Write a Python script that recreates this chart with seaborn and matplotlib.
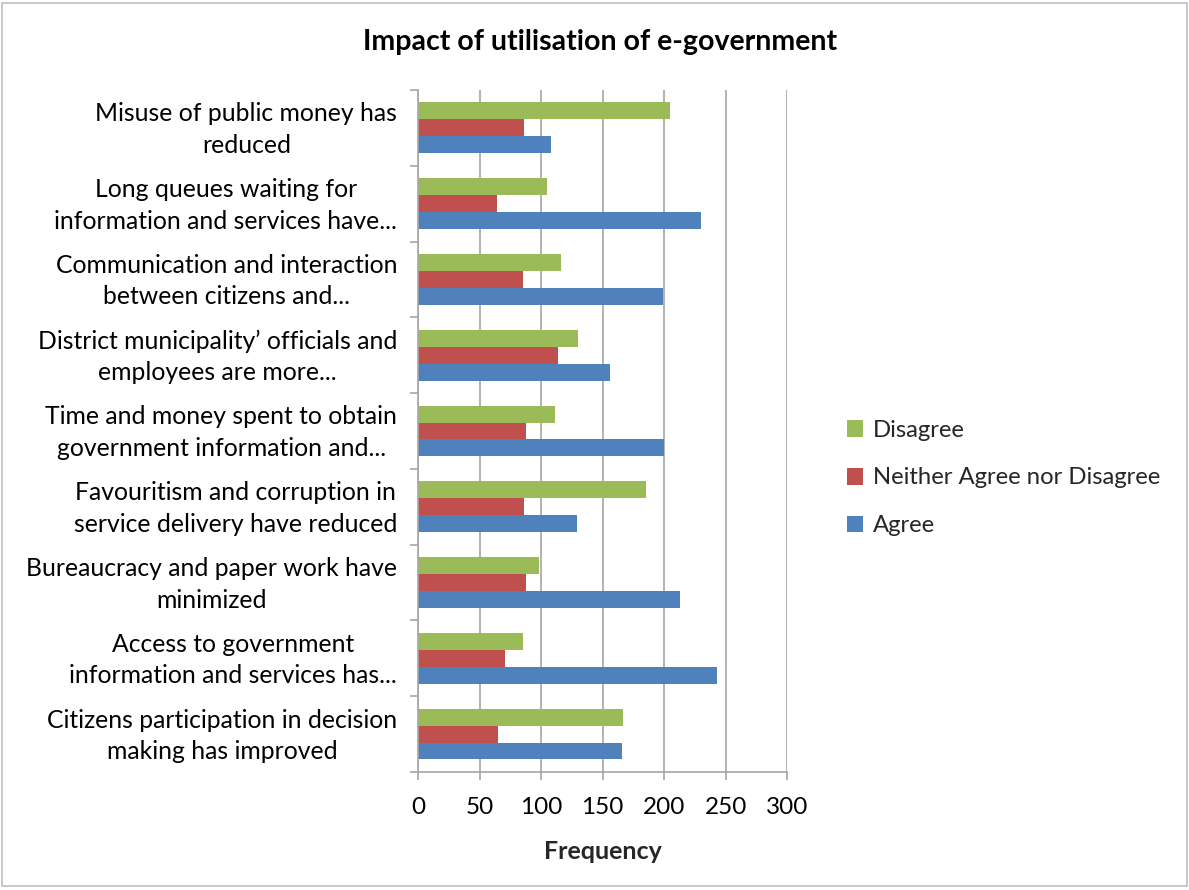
import matplotlib
matplotlib.use("Agg")
import matplotlib.pyplot as plt
import matplotlib.transforms as mtransforms
import seaborn as sns
import pandas as pd
from matplotlib.patches import Rectangle
from matplotlib.ticker import FixedLocator

categories = [
    "Misuse of public money has\nreduced",
    "Long queues waiting for\ninformation and services have...",
    "Communication and interaction\nbetween citizens and...",
    "District municipality\u2019 officials and\nemployees are more...",
    "Time and money spent to obtain\ngovernment information and...",
    "Favouritism and corruption in\nservice delivery have reduced",
    "Bureaucracy and paper work have\nminimized",
    "Access to government\ninformation and services has...",
    "Citizens participation in decision\nmaking has improved",
]
disagree = [205, 105, 116, 130, 111, 185, 98, 85, 167]
neither = [86, 64, 85, 114, 88, 86, 88, 71, 65]
agree = [108, 230, 199, 156, 200, 129, 213, 243, 166]

series_names = ["Disagree", "Neither Agree nor Disagree", "Agree"]
series_values = [disagree, neither, agree]
palette = ["#9BBB59", "#C0504D", "#4F81BD"]

rows = []
for name, vals in zip(series_names, series_values):
    for cat, v in zip(categories, vals):
        rows.append({"Statement": cat, "Response": name, "Frequency": v})
df = pd.DataFrame(rows)

sns.set_theme(style="white")
plt.rcParams["font.family"] = ["Lato", "DejaVu Sans"]

fig = plt.figure(figsize=(11.89, 8.90), dpi=100)
ax = fig.add_axes([0.3516, 0.1326, 0.3104, 0.7663])

sns.barplot(
    data=df, y="Statement", x="Frequency", hue="Response",
    order=categories, hue_order=series_names, palette=palette,
    orient="h", width=0.67, saturation=1, ax=ax, edgecolor="none",
)

ax.set_xlim(0, 300)
ax.set_ylim(len(categories) - 0.5, -0.5)
ax.set_xticks(range(0, 301, 50))
ax.xaxis.grid(True, color="#A6A6A6", linewidth=1.2)
ax.set_axisbelow(True)

ax.yaxis.set_minor_locator(FixedLocator([i - 0.5 for i in range(len(categories) + 1)]))
ax.tick_params(axis="y", which="major", length=0, pad=15, labelsize=17.8, labelcolor="black")
ax.tick_params(axis="y", which="minor", left=True, length=6, color="#A6A6A6", width=1.2)
ax.tick_params(axis="x", which="major", bottom=True, length=6, color="#A6A6A6", width=1.2,
               labelsize=17.5, labelcolor="black", pad=12)
shift_up = mtransforms.ScaledTranslation(0, 4.5 / 100, fig.dpi_scale_trans)
for lbl in ax.get_yticklabels():
    lbl.set_multialignment("center")
    lbl.set_linespacing(1.45)
    lbl.set_transform(lbl.get_transform() + shift_up)

for side in ["top", "right"]:
    ax.spines[side].set_visible(False)
for side in ["left", "bottom"]:
    ax.spines[side].set_color("#A6A6A6")
    ax.spines[side].set_linewidth(1.2)

ax.set_ylabel("")
ax.set_xlabel("Frequency", fontsize=18, fontweight="bold", labelpad=16)

fig.text(600 / 1189, 1 - 42 / 890, "Impact of utilisation of e-government",
         fontsize=20.5, fontweight="bold", ha="center", va="center", color="black")

handles, labels = ax.get_legend_handles_labels()
ax.legend(handles, labels, loc="center left", bbox_to_anchor=(825 / 1189, 1 - 478 / 890),
          bbox_transform=fig.transFigure, frameon=False, fontsize=17.2,
          handlelength=0.7, handleheight=0.7, handletextpad=0.4, labelspacing=1.12)

fig.patches.append(Rectangle((0.002, 0.004), 0.996, 0.993, transform=fig.transFigure,
                             fill=False, edgecolor="#BFBFBF", linewidth=1.2))

fig.savefig("out.png", dpi=100)
